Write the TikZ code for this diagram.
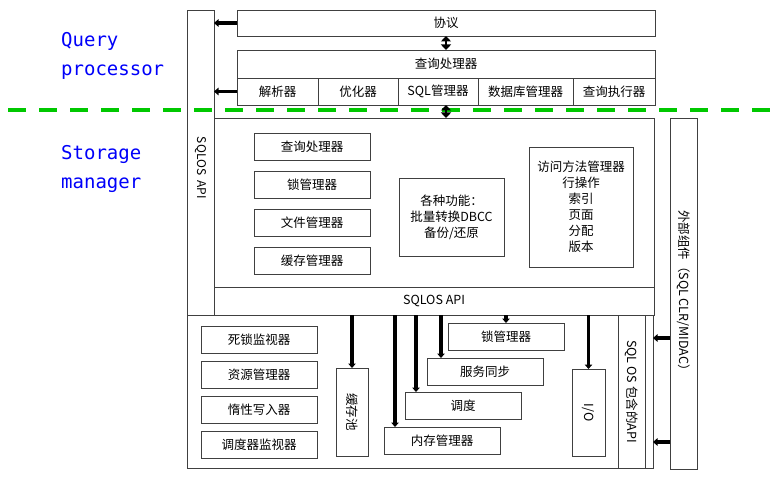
\documentclass[tikz,border=0pt]{standalone}
\usepackage{fontspec}
\setmainfont{Noto Sans CJK SC}
\newfontfamily\layerfont{DejaVu Sans Mono}
\usetikzlibrary{arrows.meta, positioning}
\definecolor{layerblue}{RGB}{0,0,250}
\definecolor{layergreen}{RGB}{0,200,0}
\tikzset{
  box/.style = {rectangle, draw=black!75, line width=0.8pt, align=center, inner sep=1pt, outer sep=0pt, font=\fontsize{12.5pt}{16pt}\selectfont},
  cell/.style = {box, minimum height=27pt},
  unit/.style = {box, minimum width=116pt, minimum height=27pt},
  sidebox/.style = {box, rotate=-90, minimum height=27pt},
  layer/.style = {text=layerblue, align=left, anchor=west, inner sep=0pt, font=\layerfont\fontsize{19pt}{29pt}\selectfont},
  line/.style = {-{Triangle[length=4.5pt, width=7.5pt]}, line width=3.2pt},
  dblline/.style = {{Triangle[length=5.5pt, width=10pt]}-{Triangle[length=5.5pt, width=10pt]}, line width=2.8pt},
  divider/.style = {layergreen, line width=3.5pt, dash pattern=on 18pt off 13pt}
}
\begin{document}
\begin{tikzpicture}[x=1pt, y=-1pt]
\useasboundingbox (0,0) rectangle (777,484);

% Layer labels
\node[layer] (qlabel) at (61,55.5) {Query\\processor};
\node[layer] (slabel) at (61,169) {Storage\\manager};

% Divider between the layers
\draw[divider] (8,110) -- (777,110);

% Left API column
\node[box, minimum width=27pt, minimum height=305pt] (apicol) at (200.5,162.5) {};
\node[rotate=-90, font=\fontsize{12pt}{14pt}\selectfont] (apitext) at (200.5,168) {SQLOS~~API};

% Query processor
\node[box, minimum width=418pt, minimum height=26pt] (proto) at (446,23) {协议};
\node[box, minimum width=418pt, minimum height=28pt] (qp) at (446,64) {查询处理器};
\node[cell, minimum width=81pt, anchor=north west] (parse) at (qp.south west) {解析器};
\node[cell, minimum width=80pt, right=0pt of parse] (optim) {优化器};
\node[cell, minimum width=80pt, right=0pt of optim] (sqlmgr) {SQL管理器};
\node[cell, minimum width=95pt, right=0pt of sqlmgr] (dbmgr) {数据库管理器};
\node[cell, minimum width=82pt, right=0pt of dbmgr] (exec) {查询执行器};

% Storage engine
\node[box, minimum width=440pt, minimum height=169pt] (storage) at (434,202.5) {};
\node[box, minimum width=440pt, minimum height=28pt, below=0pt of storage] (sqlos) {SQLOS API};

\node[unit, minimum height=27.5pt, anchor=north] (qpunit) at (312,133) {查询处理器};
\node[unit, minimum height=27.5pt, below=10.5pt of qpunit] (lockmgr) {锁管理器};
\node[unit, minimum height=27.5pt, below=10.5pt of lockmgr] (filemgr) {文件管理器};
\node[unit, minimum height=27.5pt, below=10.5pt of filemgr] (cachemgr) {缓存管理器};

\node[box, minimum width=105pt, minimum height=78pt] (funcs) at (451.5,217) {各种功能：\\批量转换DBCC\\备份/还原};
\node[box, minimum width=104pt, minimum height=120pt] (access) at (581,207) {访问方法管理器\\行操作\\索引\\页面\\分配\\版本};

% SQLOS layer
\node[box, minimum width=466pt, minimum height=153pt, anchor=north west] (osbox) at (187,315) {};

\node[unit, anchor=north] (deadlock) at (259,326) {死锁监视器};
\node[unit, below=8pt of deadlock] (resmgr) {资源管理器};
\node[unit, below=8pt of resmgr] (lazywriter) {惰性写入器};
\node[unit, below=8pt of lazywriter] (schedmon) {调度器监视器};

\node[sidebox, minimum width=88pt, minimum height=32pt] (pool) at (352,412) {缓存池};
\node[unit] (memmgr) at (442,440.5) {内存管理器};
\node[unit] (sched) at (463,405.5) {调度};
\node[unit] (sync) at (485,371.5) {服务同步};
\node[unit] (oslock) at (506,336.5) {锁管理器};
\node[sidebox, minimum width=87pt, minimum height=33pt] (io) at (588.5,412.5) {I/O};
\node[sidebox, minimum width=153pt] (osapi) at (631.5,391.5) {SQL OS 包含的API};

% External components
\node[sidebox, minimum width=351pt] (ext) at (683.5,293.5) {外部组件（SQL CLR/MIDAC）};

% Arrows
\draw[line] (proto.west) -- (proto.west -| apicol.east);
\draw[line] (parse.west) -- (parse.west -| apicol.east);
\draw[dblline] (proto.south) -- (qp.north);
\draw[dblline] (qp.south |- sqlmgr.south) -- (qp.south |- storage.north);

\coordinate (memin) at ([xshift=11pt]memmgr.north west);
\coordinate (schedin) at ([xshift=11pt]sched.north west);
\coordinate (syncin) at ([xshift=14pt]sync.north west);
\draw[line] (pool.west |- sqlos.south) -- (pool.west);
\draw[line] (memin |- sqlos.south) -- (memin);
\draw[line] (schedin |- sqlos.south) -- (schedin);
\draw[line] (syncin |- sqlos.south) -- (syncin);
\draw[line] (oslock.north |- sqlos.south) -- (oslock.north);
\draw[line] (io.west |- sqlos.south) -- (io.west);

\coordinate (extup) at ([yshift=-44.5pt]ext.south);
\coordinate (extdown) at ([yshift=-148.5pt]ext.south);
\draw[line] (extup) -- (extup -| osbox.east);
\draw[line] (extdown) -- (extdown -| osbox.east);

\end{tikzpicture}
\end{document}
